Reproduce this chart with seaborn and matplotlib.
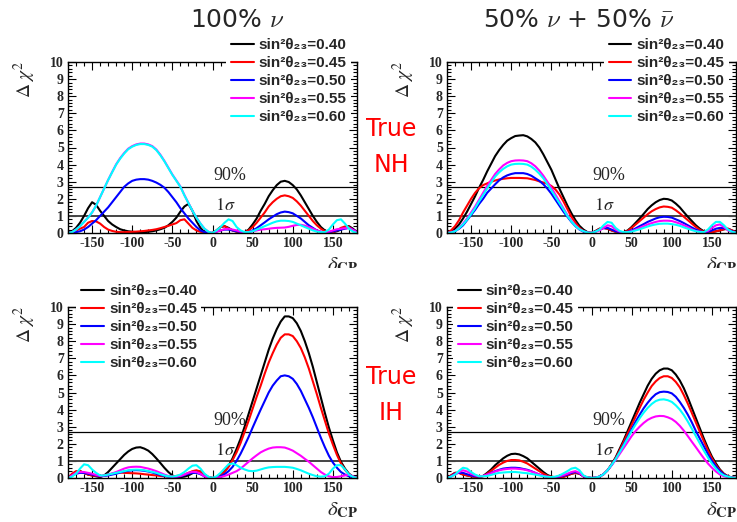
import numpy as np
import pandas as pd
import matplotlib
matplotlib.use("Agg")
import matplotlib.pyplot as plt
import seaborn as sns
from matplotlib.lines import Line2D
from matplotlib.ticker import MultipleLocator
from matplotlib.transforms import Bbox, TransformedBbox

# ---------------- data ----------------
delta_cp = [-180, -175, -170, -165, -160, -155, -150, -145, -140, -135, -130, -125,
            -120, -115, -110, -105, -100, -95, -90, -85, -80, -75, -70, -65,
            -60, -55, -50, -45, -40, -35, -30, -25, -20, -15, -10, -5,
            0,
            5, 10, 15, 20, 25, 30, 35, 40, 45, 50, 55, 60,
            65, 70, 75, 80, 85, 90, 95, 100, 105, 110, 115, 120,
            125, 130, 135, 140, 145, 150, 155, 160, 165, 170, 175, 180]

sin2_values = ["0.40", "0.45", "0.50", "0.55", "0.60"]
line_colors = ["#000000", "#ff0000", "#0000ff", "#ff00ff", "#00ffff"]

# ---- True NH, 100% nu ----
nh_nu_040 = [0, 0.1, 0.3, 0.6, 1.0, 1.45, 1.8, 1.65, 1.3, 1.0, 0.7, 0.5, 0.35, 0.22, 0.15, 0.1, 0.07, 0.05,
             0.05, 0.05, 0.07, 0.1, 0.15, 0.22, 0.3, 0.45, 0.65, 0.9, 1.25, 1.55, 1.7, 1.3, 0.7, 0.3, 0.05, 0.0,
             0,
             0.15, 0.35, 0.4, 0.3, 0.15, 0.08, 0.03, 0.05, 0.2, 0.5, 0.85, 1.3, 1.7, 2.15, 2.5, 2.8, 3.0, 3.05,
             2.98, 2.8, 2.55, 2.2, 1.8, 1.4, 1.0, 0.65, 0.35, 0.15, 0.05, 0.05, 0.1, 0.2, 0.35, 0.4, 0.25, 0.05]
nh_nu_045 = [0, 0.05, 0.15, 0.25, 0.35, 0.6, 0.7, 0.68, 0.55, 0.35, 0.2, 0.12, 0.07, 0.05, 0.05, 0.06, 0.07, 0.08,
             0.1, 0.12, 0.15, 0.18, 0.22, 0.28, 0.35, 0.42, 0.5, 0.58, 0.75, 0.8, 0.55, 0.3, 0.15, 0.07, 0.03, 0.0,
             0,
             0.15, 0.35, 0.4, 0.25, 0.15, 0.08, 0.04, 0.05, 0.15, 0.35, 0.6, 0.9, 1.2, 1.55, 1.8, 2.0, 2.15, 2.2,
             2.15, 2.05, 1.85, 1.6, 1.3, 1.0, 0.7, 0.45, 0.25, 0.1, 0.05, 0.05, 0.15, 0.3, 0.38, 0.35, 0.2, 0.05]
nh_nu_050 = [0, 0.02, 0.05, 0.1, 0.2, 0.35, 0.55, 0.75, 1.0, 1.25, 1.5, 1.8, 2.1, 2.4, 2.7, 2.9, 3.05, 3.12,
             3.15, 3.15, 3.12, 3.05, 2.95, 2.82, 2.65, 2.4, 2.1, 1.8, 1.45, 1.15, 0.85, 0.6, 0.35, 0.15, 0.05, 0.01,
             0,
             0.08, 0.15, 0.2, 0.2, 0.15, 0.1, 0.05, 0.02, 0.05, 0.15, 0.28, 0.45, 0.62, 0.8, 0.95, 1.1, 1.2, 1.25,
             1.22, 1.15, 1.0, 0.85, 0.65, 0.45, 0.3, 0.15, 0.07, 0.03, 0.05, 0.1, 0.15, 0.2, 0.25, 0.3, 0.2, 0.05]
nh_nu_055 = [0, 0.05, 0.2, 0.4, 0.65, 0.9, 1.2, 1.6, 2.1, 2.6, 3.1, 3.57, 4.02, 4.38, 4.68, 4.93, 5.08, 5.18,
             5.23, 5.23, 5.18, 5.08, 4.88, 4.58, 4.22, 3.82, 3.42, 3.07, 2.72, 2.22, 1.76, 1.3, 0.9, 0.55, 0.25, 0.07,
             0,
             0.08, 0.15, 0.22, 0.25, 0.2, 0.15, 0.08, 0.05, 0.06, 0.1, 0.15, 0.2, 0.22, 0.25, 0.28, 0.3, 0.31, 0.32,
             0.36, 0.42, 0.47, 0.48, 0.43, 0.35, 0.25, 0.15, 0.08, 0.05, 0.08, 0.15, 0.22, 0.25, 0.28, 0.3, 0.18, 0.05]
nh_nu_060 = [0, 0.05, 0.2, 0.4, 0.65, 0.9, 1.2, 1.6, 2.1, 2.6, 3.1, 3.55, 4.0, 4.35, 4.65, 4.9, 5.05, 5.15,
             5.2, 5.2, 5.15, 5.05, 4.85, 4.55, 4.2, 3.8, 3.4, 3.05, 2.7, 2.2, 1.75, 1.3, 0.9, 0.55, 0.25, 0.07,
             0,
             0.15, 0.35, 0.6, 0.8, 0.7, 0.35, 0.15, 0.05, 0.05, 0.1, 0.2, 0.3, 0.4, 0.5, 0.6, 0.68, 0.72, 0.72,
             0.7, 0.65, 0.55, 0.45, 0.35, 0.25, 0.15, 0.08, 0.05, 0.05, 0.2, 0.5, 0.75, 0.8, 0.55, 0.25, 0.08, 0.0]

# ---- True NH, 50% nu + 50% nubar ----
nh_mix_040 = [0, 0.08, 0.25, 0.5, 0.85, 1.25, 1.7, 2.15, 2.65, 3.1, 3.6, 4.05, 4.5, 4.85, 5.15, 5.4, 5.55, 5.67,
              5.7, 5.72, 5.65, 5.5, 5.3, 5.0, 4.6, 4.15, 3.7, 3.15, 2.6, 2.1, 1.6, 1.15, 0.75, 0.42, 0.2, 0.05,
              0,
              0.12, 0.25, 0.3, 0.25, 0.15, 0.08, 0.04, 0.05, 0.15, 0.35, 0.6, 0.85, 1.12, 1.4, 1.62, 1.8, 1.93, 2.0,
              1.98, 1.9, 1.72, 1.5, 1.22, 0.95, 0.7, 0.45, 0.25, 0.1, 0.05, 0.05, 0.1, 0.15, 0.22, 0.25, 0.15, 0.05]
nh_mix_045 = [0, 0.15, 0.4, 0.75, 1.2, 1.6, 2.0, 2.35, 2.62, 2.8, 2.9, 3.0, 3.07, 3.13, 3.17, 3.2, 3.22, 3.22,
              3.22, 3.21, 3.2, 3.15, 3.1, 3.02, 2.95, 2.88, 2.75, 2.55, 2.25, 1.85, 1.4, 0.95, 0.6, 0.3, 0.12, 0.03,
              0,
              0.1, 0.25, 0.3, 0.25, 0.15, 0.07, 0.04, 0.05, 0.12, 0.3, 0.5, 0.7, 0.9, 1.1, 1.27, 1.4, 1.5, 1.55,
              1.53, 1.48, 1.33, 1.15, 0.95, 0.75, 0.55, 0.35, 0.18, 0.08, 0.05, 0.05, 0.1, 0.15, 0.22, 0.25, 0.15, 0.05]
nh_mix_050 = [0, 0.03, 0.1, 0.25, 0.45, 0.75, 1.05, 1.35, 1.7, 2.0, 2.35, 2.6, 2.85, 3.08, 3.25, 3.37, 3.45, 3.5,
              3.5, 3.5, 3.45, 3.35, 3.2, 3.05, 2.85, 2.6, 2.3, 1.95, 1.6, 1.25, 0.95, 0.65, 0.4, 0.2, 0.08, 0.02,
              0,
              0.08, 0.2, 0.28, 0.3, 0.2, 0.1, 0.05, 0.03, 0.07, 0.15, 0.27, 0.4, 0.52, 0.65, 0.75, 0.85, 0.92, 0.95,
              0.94, 0.9, 0.8, 0.7, 0.58, 0.45, 0.32, 0.2, 0.1, 0.05, 0.07, 0.15, 0.25, 0.3, 0.28, 0.2, 0.1, 0.03]
nh_mix_055 = [0, 0.04, 0.12, 0.3, 0.55, 0.85, 1.2, 1.55, 1.95, 2.35, 2.75, 3.1, 3.45, 3.72, 3.95, 4.1, 4.2, 4.24,
              4.25, 4.24, 4.2, 4.08, 3.9, 3.65, 3.35, 3.0, 2.65, 2.25, 1.85, 1.45, 1.05, 0.72, 0.45, 0.22, 0.1, 0.03,
              0,
              0.07, 0.15, 0.3, 0.45, 0.4, 0.2, 0.08, 0.03, 0.05, 0.1, 0.2, 0.3, 0.4, 0.5, 0.58, 0.65, 0.7, 0.72,
              0.72, 0.7, 0.63, 0.55, 0.45, 0.35, 0.22, 0.12, 0.07, 0.05, 0.12, 0.3, 0.45, 0.5, 0.35, 0.15, 0.06, 0.02]
nh_mix_060 = [0, 0.03, 0.1, 0.28, 0.5, 0.78, 1.1, 1.45, 1.85, 2.22, 2.6, 2.95, 3.3, 3.55, 3.75, 3.9, 4.0, 4.04,
              4.05, 4.04, 4.0, 3.88, 3.7, 3.47, 3.2, 2.85, 2.5, 2.12, 1.75, 1.38, 1.0, 0.68, 0.42, 0.22, 0.1, 0.03,
              0,
              0.08, 0.2, 0.45, 0.65, 0.6, 0.3, 0.12, 0.05, 0.05, 0.08, 0.15, 0.22, 0.3, 0.38, 0.45, 0.5, 0.54, 0.55,
              0.55, 0.52, 0.48, 0.42, 0.33, 0.25, 0.17, 0.1, 0.06, 0.05, 0.2, 0.45, 0.65, 0.65, 0.45, 0.2, 0.07, 0.02]

# ---- True IH, 100% nu ----
ih_nu_040 = [0, 0.2, 0.35, 0.4, 0.3, 0.2, 0.15, 0.1, 0.05, 0.15, 0.35, 0.6, 0.85, 1.1, 1.35, 1.55, 1.7, 1.78,
             1.8, 1.72, 1.6, 1.4, 1.15, 0.88, 0.6, 0.35, 0.15, 0.05, 0.05, 0.08, 0.15, 0.28, 0.4, 0.38, 0.2, 0.05,
             0,
             0.03, 0.15, 0.38, 0.7, 1.15, 1.7, 2.3, 3.0, 3.75, 4.5, 5.25, 6.0, 6.75, 7.5, 8.15, 8.7, 9.15, 9.45,
             9.45, 9.35, 9.05, 8.6, 8.0, 7.3, 6.5, 5.6, 4.7, 3.8, 2.95, 2.2, 1.5, 0.95, 0.55, 0.25, 0.08, 0]
ih_nu_045 = [0, 0.25, 0.4, 0.4, 0.3, 0.2, 0.15, 0.12, 0.1, 0.15, 0.2, 0.25, 0.3, 0.32, 0.3, 0.29, 0.28, 0.27,
             0.25, 0.22, 0.2, 0.17, 0.15, 0.12, 0.1, 0.09, 0.1, 0.12, 0.15, 0.2, 0.3, 0.4, 0.45, 0.38, 0.2, 0.05,
             0,
             0.03, 0.15, 0.35, 0.65, 1.05, 1.5, 2.05, 2.7, 3.35, 4.05, 4.75, 5.4, 6.1, 6.75, 7.3, 7.8, 8.2, 8.4,
             8.4, 8.3, 8.0, 7.6, 7.05, 6.4, 5.65, 4.9, 4.1, 3.35, 2.6, 1.95, 1.35, 0.85, 0.48, 0.2, 0.06, 0]
ih_nu_050 = [0, 0.15, 0.25, 0.3, 0.3, 0.25, 0.2, 0.15, 0.1, 0.12, 0.15, 0.2, 0.25, 0.32, 0.38, 0.42, 0.45, 0.46,
             0.45, 0.42, 0.38, 0.32, 0.25, 0.18, 0.12, 0.08, 0.05, 0.07, 0.1, 0.17, 0.25, 0.3, 0.3, 0.22, 0.1, 0.03,
             0,
             0.02, 0.1, 0.22, 0.4, 0.65, 1.0, 1.42, 1.9, 2.4, 2.95, 3.48, 4.0, 4.5, 5.0, 5.4, 5.7, 5.95, 6.0,
             5.95, 5.8, 5.5, 5.1, 4.6, 4.1, 3.55, 2.95, 2.35, 1.8, 1.3, 0.9, 0.6, 0.35, 0.2, 0.1, 0.03, 0]
ih_nu_055 = [0, 0.15, 0.3, 0.35, 0.35, 0.3, 0.25, 0.18, 0.12, 0.15, 0.2, 0.27, 0.35, 0.45, 0.55, 0.62, 0.65, 0.66,
             0.65, 0.6, 0.55, 0.48, 0.4, 0.3, 0.2, 0.12, 0.08, 0.08, 0.12, 0.2, 0.3, 0.36, 0.35, 0.25, 0.1, 0.03,
             0,
             0.02, 0.05, 0.12, 0.2, 0.3, 0.4, 0.55, 0.75, 0.95, 1.15, 1.33, 1.5, 1.62, 1.72, 1.78, 1.8, 1.8, 1.78,
             1.7, 1.6, 1.45, 1.3, 1.12, 0.95, 0.75, 0.55, 0.35, 0.2, 0.1, 0.05, 0.06, 0.1, 0.15, 0.2, 0.1, 0]
ih_nu_060 = [0, 0.08, 0.25, 0.55, 0.8, 0.75, 0.5, 0.3, 0.15, 0.15, 0.2, 0.25, 0.3, 0.35, 0.4, 0.45, 0.48, 0.49,
             0.48, 0.45, 0.4, 0.35, 0.3, 0.22, 0.15, 0.1, 0.08, 0.12, 0.2, 0.35, 0.55, 0.72, 0.75, 0.55, 0.25, 0.07,
             0,
             0.1, 0.3, 0.55, 0.8, 0.85, 0.75, 0.6, 0.5, 0.42, 0.4, 0.43, 0.5, 0.57, 0.62, 0.64, 0.65, 0.65, 0.65,
             0.63, 0.6, 0.53, 0.45, 0.35, 0.25, 0.17, 0.1, 0.08, 0.1, 0.25, 0.55, 0.75, 0.75, 0.5, 0.2, 0.06, 0]

# ---- True IH, 50% nu + 50% nubar ----
ih_mix_040 = [0, 0.15, 0.3, 0.3, 0.2, 0.15, 0.1, 0.07, 0.05, 0.12, 0.3, 0.5, 0.75, 0.95, 1.15, 1.3, 1.4, 1.42,
              1.38, 1.28, 1.15, 0.95, 0.75, 0.55, 0.35, 0.18, 0.08, 0.04, 0.03, 0.07, 0.15, 0.25, 0.3, 0.25, 0.1, 0.03,
              0,
              0.02, 0.08, 0.22, 0.45, 0.8, 1.2, 1.7, 2.2, 2.75, 3.3, 3.85, 4.4, 4.9, 5.4, 5.8, 6.1, 6.3, 6.4,
              6.4, 6.3, 6.05, 5.7, 5.25, 4.7, 4.1, 3.5, 2.9, 2.3, 1.75, 1.25, 0.85, 0.5, 0.25, 0.1, 0.03, 0]
ih_mix_045 = [0, 0.15, 0.3, 0.3, 0.2, 0.15, 0.1, 0.07, 0.05, 0.1, 0.25, 0.42, 0.6, 0.77, 0.9, 1.0, 1.05, 1.05,
              1.03, 0.95, 0.85, 0.7, 0.55, 0.4, 0.25, 0.13, 0.07, 0.04, 0.03, 0.07, 0.15, 0.25, 0.3, 0.25, 0.1, 0.03,
              0,
              0.02, 0.08, 0.22, 0.45, 0.78, 1.15, 1.6, 2.1, 2.6, 3.1, 3.6, 4.1, 4.58, 5.0, 5.38, 5.65, 5.85, 5.95,
              5.95, 5.85, 5.62, 5.3, 4.85, 4.35, 3.8, 3.25, 2.7, 2.15, 1.62, 1.15, 0.75, 0.45, 0.22, 0.1, 0.03, 0]
ih_mix_050 = [0, 0.1, 0.25, 0.3, 0.3, 0.22, 0.15, 0.1, 0.08, 0.12, 0.2, 0.3, 0.4, 0.48, 0.55, 0.58, 0.6, 0.6,
              0.58, 0.53, 0.48, 0.4, 0.3, 0.2, 0.12, 0.07, 0.05, 0.05, 0.08, 0.13, 0.2, 0.3, 0.35, 0.27, 0.1, 0.03,
              0,
              0.02, 0.08, 0.22, 0.45, 0.75, 1.1, 1.5, 1.95, 2.4, 2.85, 3.3, 3.7, 4.08, 4.4, 4.68, 4.9, 5.02, 5.05,
              5.03, 4.95, 4.75, 4.45, 4.1, 3.7, 3.25, 2.75, 2.3, 1.85, 1.4, 1.0, 0.68, 0.4, 0.2, 0.08, 0.02, 0]
ih_mix_055 = [0, 0.08, 0.2, 0.35, 0.45, 0.38, 0.25, 0.15, 0.1, 0.12, 0.2, 0.28, 0.38, 0.45, 0.5, 0.53, 0.55, 0.55,
              0.53, 0.5, 0.45, 0.38, 0.3, 0.2, 0.12, 0.07, 0.05, 0.06, 0.1, 0.17, 0.25, 0.35, 0.4, 0.3, 0.1, 0.03,
              0,
              0.02, 0.08, 0.22, 0.45, 0.75, 1.05, 1.4, 1.75, 2.1, 2.45, 2.75, 3.0, 3.22, 3.4, 3.52, 3.6, 3.63, 3.62,
              3.55, 3.45, 3.28, 3.05, 2.77, 2.45, 2.12, 1.8, 1.47, 1.15, 0.85, 0.6, 0.38, 0.2, 0.1, 0.05, 0.02, 0]
ih_mix_060 = [0, 0.08, 0.2, 0.42, 0.6, 0.55, 0.35, 0.2, 0.1, 0.1, 0.12, 0.18, 0.25, 0.3, 0.32, 0.34, 0.35, 0.35,
              0.33, 0.3, 0.28, 0.24, 0.2, 0.15, 0.1, 0.07, 0.05, 0.08, 0.15, 0.27, 0.4, 0.55, 0.6, 0.45, 0.15, 0.04,
              0,
              0.02, 0.08, 0.22, 0.45, 0.77, 1.1, 1.5, 1.9, 2.33, 2.75, 3.13, 3.5, 3.82, 4.1, 4.33, 4.5, 4.58, 4.6,
              4.55, 4.45, 4.25, 4.0, 3.68, 3.3, 2.88, 2.45, 2.02, 1.6, 1.2, 0.85, 0.55, 0.3, 0.15, 0.08, 0.02, 0]

panels = [
    [nh_nu_040, nh_nu_045, nh_nu_050, nh_nu_055, nh_nu_060],
    [nh_mix_040, nh_mix_045, nh_mix_050, nh_mix_055, nh_mix_060],
    [ih_nu_040, ih_nu_045, ih_nu_050, ih_nu_055, ih_nu_060],
    [ih_mix_040, ih_mix_045, ih_mix_050, ih_mix_055, ih_mix_060],
]

x_ticks = [-150, -100, -50, 0, 50, 100, 150]
x_ticklabels = ["-150", "-100", "-50", "0", "50", "100", "150"]
y_ticks = [0, 1, 2, 3, 4, 5, 6, 7, 8, 9, 10]
y_ticklabels = ["0", "1", "2", "3", "4", "5", "6", "7", "8", "9", "10"]
cl90 = 2.71
one_sigma = 1.0

# ---------------- style ----------------
sns.set_style("ticks")
plt.rcParams["font.family"] = ["DejaVu Sans"]

W, H = 737, 522
fig = plt.figure(figsize=(W / 100, H / 100), dpi=100)

def fx(px):
    return px / W

def fy(py):
    return 1 - py / H

ax_w = 289
ax_h = 171
positions = [(68, 62), (447, 62), (68, 307), (447, 307)]
legend_anchor = [(0.547, 1.165), (0.543, 1.165), (0.028, 1.16), (0.021, 1.16)]

for i, (series, (left, top)) in enumerate(zip(panels, positions)):
    ax = fig.add_axes([fx(left), fy(top + ax_h), ax_w / W, ax_h / H])
    rows = []
    for s2, vals in zip(sin2_values, series):
        assert len(vals) == len(delta_cp)
        for d, v in zip(delta_cp, vals):
            rows.append({"delta": d, "chi2": v, "sin2": s2})
    df = pd.DataFrame(rows)
    sns.lineplot(data=df, x="delta", y="chi2", hue="sin2", palette=line_colors,
                 hue_order=sin2_values, estimator=None, sort=False, legend=False,
                 linewidth=1.5, ax=ax)
    ax.axhline(cl90, color="black", lw=0.9, zorder=1)
    ax.axhline(one_sigma, color="#444444", lw=1.4, zorder=1)
    ax.text(1, 2.86, "90%", family="Liberation Serif", fontsize=13, va="bottom", ha="left")
    ax.text(3, 1.12, r"$1\sigma$", math_fontfamily="stix", fontsize=13, va="bottom", ha="left")
    ax.set_xlim(-180, 180)
    ax.set_ylim(0, 10)
    ax.set_xlabel("")
    ax.set_ylabel("")
    ax.set_xticks(x_ticks)
    ax.set_xticklabels(x_ticklabels)
    ax.set_yticks(y_ticks)
    ax.set_yticklabels(y_ticklabels)
    for lab in ax.get_xticklabels() + ax.get_yticklabels():
        lab.set_fontfamily("Liberation Serif")
        lab.set_fontweight("bold")
        lab.set_fontsize(10)
    ax.xaxis.set_minor_locator(MultipleLocator(10))
    ax.yaxis.set_minor_locator(MultipleLocator(0.2))
    ax.tick_params(which="both", direction="in", top=True, right=True, width=0.8, color="black")
    ax.tick_params(which="major", length=6)
    ax.tick_params(axis="x", which="major", pad=3)
    ax.tick_params(axis="y", which="major", pad=3)
    ax.tick_params(which="minor", length=3)
    for sp in ax.spines.values():
        sp.set_visible(True)
        sp.set_linewidth(1.0)
        sp.set_color("black")
    handles = [Line2D([], [], color=c, lw=1.5) for c in line_colors]
    labels = ["sin\u00b2\u03b8\u2082\u2083=" + v for v in sin2_values]
    leg = ax.legend(handles, labels, loc="upper left", bbox_to_anchor=legend_anchor[i],
                    prop={"family": ["Liberation Sans", "DejaVu Sans"], "weight": "bold", "size": 11},
                    frameon=True, facecolor="white", edgecolor="none",
                    framealpha=1, fancybox=False, borderpad=0.3, borderaxespad=0,
                    handlelength=1.5, handletextpad=0.35, labelspacing=0.26)
    leg.set_zorder(10)
    leg.set_clip_on(False)

    # y label
    fig.text(fx(left - 43), fy(top + 17), r"$\Delta\ \chi^{2}$", math_fontfamily="stix",
             fontsize=14, rotation=90, ha="center", va="center")
    # x label
    t = fig.text(fx(left + ax_w + 1), fy(top + ax_h + 32), r"$\delta_{\mathbf{CP}}$",
                 math_fontfamily="stix", fontsize=15, ha="right", va="center")
    if top < 200:
        t.set_clip_box(TransformedBbox(Bbox.from_extents(0, fy(268), 1, 1), fig.transFigure))
        t.set_clip_on(True)

# titles
fig.text(fx(237), fy(20), r"100% $\nu$", family="DejaVu Sans", math_fontfamily="cm", fontsize=18,
         ha="center", va="center")
fig.text(fx(579), fy(20), r"50% $\nu$ + 50% $\bar{\nu}$", family="DejaVu Sans", math_fontfamily="cm",
         fontsize=18, ha="center", va="center")

# True NH / IH labels
for txt, ypx in [("True", 129), ("NH", 165), ("True", 377), ("IH", 413)]:
    fig.text(fx(391), fy(ypx), txt, family="DejaVu Sans", fontsize=17,
             color="#ff0000", ha="center", va="center")

fig.savefig("out.png", dpi=100)
